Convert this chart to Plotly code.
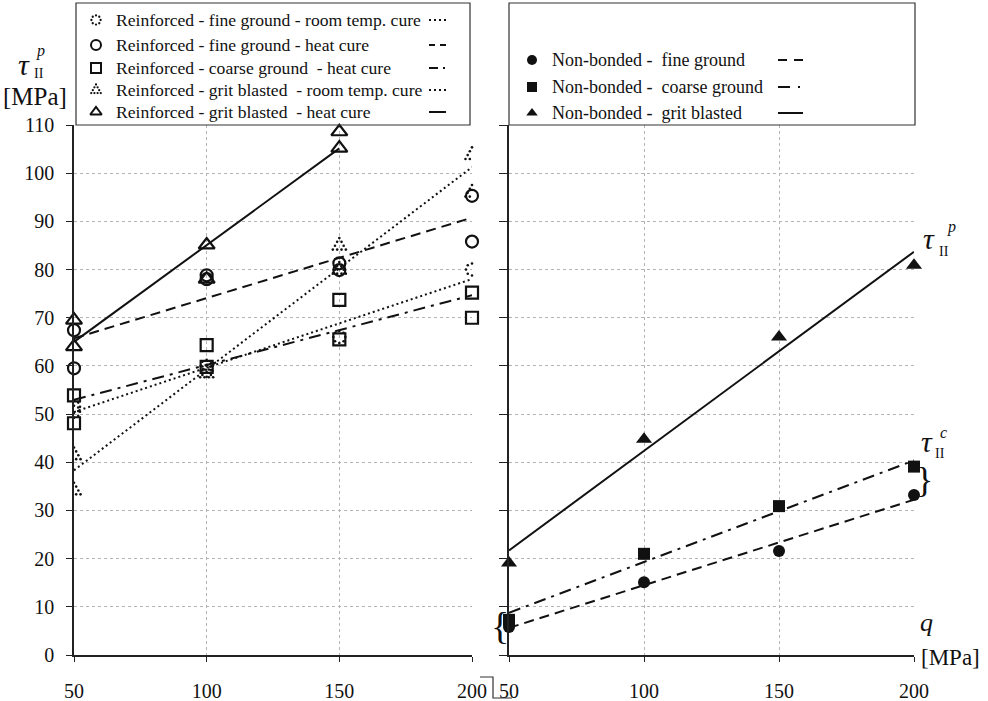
import numpy as np
import plotly.graph_objects as go

# ---------------- data ----------------
q_ticks = [50, 100, 150, 200]
tau_ticks = list(range(0, 111, 10))

# Reinforced joints (left panel): contact pressure q [MPa] vs. tau_II^p [MPa]
rf_fine_rt_q = [50, 50, 100, 100, 150, 200]
rf_fine_rt_tau = [51.5, 50.5, 59.0, 60.0, 66.0, 80.0]
rf_fine_hc_q = [50, 50, 100, 100, 150, 150, 200, 200]
rf_fine_hc_tau = [67.4, 59.5, 78.8, 78.0, 81.3, 79.9, 95.3, 85.8]
rf_coarse_hc_q = [50, 50, 100, 100, 150, 150, 200, 200]
rf_coarse_hc_tau = [53.9, 48.1, 64.3, 59.8, 73.7, 65.5, 75.2, 70.0]
rf_grit_rt_q = [50, 50, 100, 150, 150, 200, 200]
rf_grit_rt_tau = [41.5, 34.2, 58.5, 85.0, 80.0, 103.8, 96.0]
rf_grit_hc_q = [50, 50, 100, 100, 150, 150]
rf_grit_hc_tau = [69.5, 64.0, 85.1, 78.0, 108.6, 105.2]

# Non-bonded joints (right panel)
nb_q = [50, 100, 150, 200]
nb_fine_tau = [5.8, 15.1, 21.6, 33.2]
nb_coarse_tau = [7.3, 21.0, 30.9, 39.1]
nb_grit_tau = [19.1, 44.8, 66.0, 80.9]

left_legend_labels = [
    "Reinforced - fine ground - room temp. cure",
    "Reinforced - fine ground - heat cure",
    "Reinforced - coarse ground  - heat cure",
    "Reinforced - grit blasted  - room temp. cure",
    "Reinforced - grit blasted  - heat cure",
]
right_legend_labels = [
    "Non-bonded -  fine ground",
    "Non-bonded -  coarse ground",
    "Non-bonded -  grit blasted",
]

# ---------------- geometry (pixels) ----------------
W, H = 988, 701
LX0, LX1 = 74, 472          # left panel, q = 50 .. 200
RX0, RX1 = 509, 914         # right panel, q = 50 .. 200
PY0, PY1 = 125, 655         # tau = 110 .. 0
Q_MIN, Q_MAX, TAU_MAX = 50, 200, 110
SX_L = (LX1 - LX0) / (Q_MAX - Q_MIN)
SX_R = (RX1 - RX0) / (Q_MAX - Q_MIN)
SY = (PY1 - PY0) / TAU_MAX

FONT = "Liberation Serif"
INK = "#111111"
GRID = "#b4b4b4"
LW = 2

DOT = "2px,3px"
DASH = "10px,6px"
DASHDOT = "12px,6px,3px,6px"


def dotted_marker(xs, ys, shape, sx, sy, r):
    """Scatter coordinates of small dots arranged as a ring / triangle around each point."""
    if shape == "circle":
        ang = np.linspace(0, 2 * np.pi, 9)[:-1]
        off = np.column_stack([r * np.cos(ang), r * np.sin(ang)])
    else:
        v = np.array([[0, -r], [-0.87 * r, 0.55 * r], [0.87 * r, 0.55 * r]])
        pts = []
        for i in range(3):
            a, b = v[i], v[(i + 1) % 3]
            for t in (0, 1 / 3, 2 / 3):
                pts.append(a + t * (b - a))
        off = np.array(pts)
    X, Y = [], []
    for x, y in zip(xs, ys):
        X.extend(x + off[:, 0] / sx)
        Y.extend(y - off[:, 1] / sy)
    return X, Y


def fit_line(q, tau):
    k, b = np.polyfit(q, tau, 1)
    xs = np.array([min(q), max(q)], dtype=float)
    return xs, k * xs + b


fig = go.Figure()


def add_fit(q, tau, dash, xa, ya):
    xs, ys = fit_line(q, tau)
    fig.add_trace(go.Scatter(x=xs, y=ys, mode="lines", xaxis=xa, yaxis=ya,
                             line=dict(color=INK, width=LW, dash=dash),
                             hoverinfo="skip", showlegend=False))


def add_markers(q, tau, symbol, size, xa, ya, lw=2.2):
    fig.add_trace(go.Scatter(x=q, y=tau, mode="markers", xaxis=xa, yaxis=ya,
                             cliponaxis=False, showlegend=False,
                             marker=dict(symbol=symbol, size=size, color=INK,
                                         line=dict(color=INK, width=lw))))


def add_dotted(q, tau, shape, sx, sy, r, xa, ya, size=2.6):
    X, Y = dotted_marker(q, tau, shape, sx, sy, r)
    fig.add_trace(go.Scatter(x=X, y=Y, mode="markers", xaxis=xa, yaxis=ya,
                             cliponaxis=False, showlegend=False,
                             marker=dict(symbol="circle", size=size, color=INK,
                                         line=dict(width=0))))


# ---- left panel: reinforced ----
add_fit(rf_fine_rt_q, rf_fine_rt_tau, DOT, "x", "y")
add_fit(rf_fine_hc_q, rf_fine_hc_tau, DASH, "x", "y")
add_fit(rf_coarse_hc_q, rf_coarse_hc_tau, DASHDOT, "x", "y")
add_fit(rf_grit_rt_q, rf_grit_rt_tau, DOT, "x", "y")
add_fit(rf_grit_hc_q, rf_grit_hc_tau, "solid", "x", "y")

add_dotted(rf_fine_rt_q, rf_fine_rt_tau, "circle", SX_L, SY, 6, "x", "y")
add_markers(rf_fine_hc_q, rf_fine_hc_tau, "circle-open", 12, "x", "y")
add_markers(rf_coarse_hc_q, rf_coarse_hc_tau, "square-open", 12, "x", "y")
add_dotted(rf_grit_rt_q, rf_grit_rt_tau, "triangle", SX_L, SY, 7.5, "x", "y")
add_markers(rf_grit_hc_q, rf_grit_hc_tau, "triangle-up-open", 14, "x", "y")

# ---- right panel: non-bonded ----
add_fit(nb_q, nb_fine_tau, DASH, "x2", "y2")
add_fit(nb_q, nb_coarse_tau, DASHDOT, "x2", "y2")
add_fit(nb_q, nb_grit_tau, "solid", "x2", "y2")

add_markers(nb_q, nb_fine_tau, "circle", 12, "x2", "y2", lw=0)
add_markers(nb_q, nb_coarse_tau, "square", 12, "x2", "y2", lw=0)
add_markers(nb_q, nb_grit_tau, "triangle-up", 14, "x2", "y2", lw=0)

# ---- legend samples on a pixel overlay (x3 / y3) ----
left_rows = [20, 45, 68, 90, 112]
left_marker_x, left_text_x = 96, 114
left_line = (429, 446)
left_kinds = [("dotcircle", DOT), ("circle-open", "6px,5px"),
              ("square-open", "9px,5px,2px,5px"),
              ("dottriangle", DOT), ("triangle-up-open", "solid")]

right_rows = [60, 87, 113]
right_marker_x, right_text_x = 532, 550
right_line = (778, 803)
right_kinds = [("circle", "9px,7px"), ("square", "12px,8px,2px,8px"),
               ("triangle-up", "solid")]

annotations = []
shapes = []


def legend_marker(kind, x, y):
    if kind == "dotcircle":
        add_dotted([x], [y], "circle", 1, -1, 4.6, "x3", "y3", size=2.3)
    elif kind == "dottriangle":
        add_dotted([x], [y], "triangle", 1, -1, 5.5, "x3", "y3", size=2.3)
    else:
        lw = 2 if kind.endswith("open") else 0
        fig.add_trace(go.Scatter(x=[x], y=[y], mode="markers", xaxis="x3", yaxis="y3",
                                 cliponaxis=False, showlegend=False, hoverinfo="skip",
                                 marker=dict(symbol=kind, size=10, color=INK,
                                             line=dict(color=INK, width=lw))))


for label, yy, (kind, dash) in zip(left_legend_labels, left_rows, left_kinds):
    legend_marker(kind, left_marker_x, yy)
    annotations.append(dict(x=left_text_x, y=yy, xref="x3", yref="y3", text=label,
                            showarrow=False, xanchor="left", yanchor="middle",
                            font=dict(family=FONT, size=17.6, color=INK)))
    shapes.append(dict(type="line", xref="x3", yref="y3", x0=left_line[0], x1=left_line[1],
                       y0=yy, y1=yy, line=dict(color=INK, width=LW, dash=dash)))

for label, yy, (kind, dash) in zip(right_legend_labels, right_rows, right_kinds):
    legend_marker(kind, right_marker_x, yy)
    annotations.append(dict(x=right_text_x, y=yy, xref="x3", yref="y3", text=label,
                            showarrow=False, xanchor="left", yanchor="middle",
                            font=dict(family=FONT, size=18, color=INK)))
    shapes.append(dict(type="line", xref="x3", yref="y3", x0=right_line[0], x1=right_line[1],
                       y0=yy, y1=yy, line=dict(color=INK, width=LW, dash=dash)))

# legend frames
shapes.append(dict(type="rect", xref="x3", yref="y3", x0=76, x1=470, y0=3, y1=PY0,
                   line=dict(color="#333", width=1.2), fillcolor="rgba(0,0,0,0)"))
shapes.append(dict(type="rect", xref="x3", yref="y3", x0=RX0, x1=915, y0=3, y1=PY0,
                   line=dict(color="#333", width=1.2), fillcolor="rgba(0,0,0,0)"))
# small frame corner between the two panels
shapes.append(dict(type="path", xref="x3", yref="y3",
                   path="M 480 677 L 493 677 L 493 698 L 512 698",
                   line=dict(color="#333", width=1.2)))


def txt(x, y, s, size, italic=False, anchor="center"):
    if italic:
        s = "<i>" + s + "</i>"
    annotations.append(dict(x=x, y=y, xref="x3", yref="y3", text=s, showarrow=False,
                            xanchor=anchor, yanchor="middle",
                            font=dict(family=FONT, size=size, color=INK)))


# axis titles
txt(24, 64, "τ", 30, italic=True)
txt(40, 51, "p", 16, italic=True)
txt(39, 73, "II", 14)
txt(35, 96, "[MPa]", 25)

txt(929, 238, "τ", 30, italic=True)
txt(951, 227, "p", 16, italic=True)
txt(944, 251, "II", 14)

txt(927, 441, "τ", 30, italic=True)
txt(943, 432, "c", 16, italic=True)
txt(940, 453, "II", 14)
txt(924, 480, "}", 36)
txt(500, 626, "{", 38)

txt(926, 622, "q", 26, italic=True)
txt(950, 657, "[MPa]", 23)

common_x = dict(range=[Q_MIN, Q_MAX], tickvals=q_ticks, ticks="outside", ticklen=5,
                tickcolor="#222", showline=True, linecolor="#222", linewidth=1.5,
                showgrid=True, gridcolor=GRID, griddash="dot", gridwidth=1,
                zeroline=False, tickfont=dict(family=FONT, size=20, color=INK),
                ticklabelstandoff=12, fixedrange=True, automargin=False)
common_y = dict(range=[0, TAU_MAX], tickvals=tau_ticks, ticks="outside",
                tickcolor="#222", showline=True, linecolor="#222", linewidth=1.5,
                showgrid=True, gridcolor=GRID, griddash="dot", gridwidth=1,
                zeroline=False, tickfont=dict(family=FONT, size=20, color=INK),
                domain=[(H - PY1) / H, (H - PY0) / H], fixedrange=True,
                automargin=False)

fig.update_layout(
    width=W, height=H, autosize=False,
    margin=dict(l=0, r=0, t=0, b=0, pad=0, autoexpand=False),
    paper_bgcolor="white", plot_bgcolor="rgba(0,0,0,0)",
    showlegend=False,
    xaxis=dict(common_x, domain=[LX0 / W, LX1 / W], anchor="y"),
    yaxis=dict(common_y, anchor="x", ticklen=6, ticklabelstandoff=8),
    xaxis2=dict(common_x, domain=[RX0 / W, RX1 / W], anchor="y2"),
    yaxis2=dict(common_y, anchor="x2", ticklen=8, showticklabels=False),
    xaxis3=dict(domain=[0, 1], range=[0, W], visible=False, anchor="y3",
                fixedrange=True, automargin=False),
    yaxis3=dict(domain=[0, 1], range=[H, 0], visible=False, anchor="x3",
                fixedrange=True, automargin=False),
    annotations=annotations,
    shapes=shapes,
)

fig.write_html("out.html")
